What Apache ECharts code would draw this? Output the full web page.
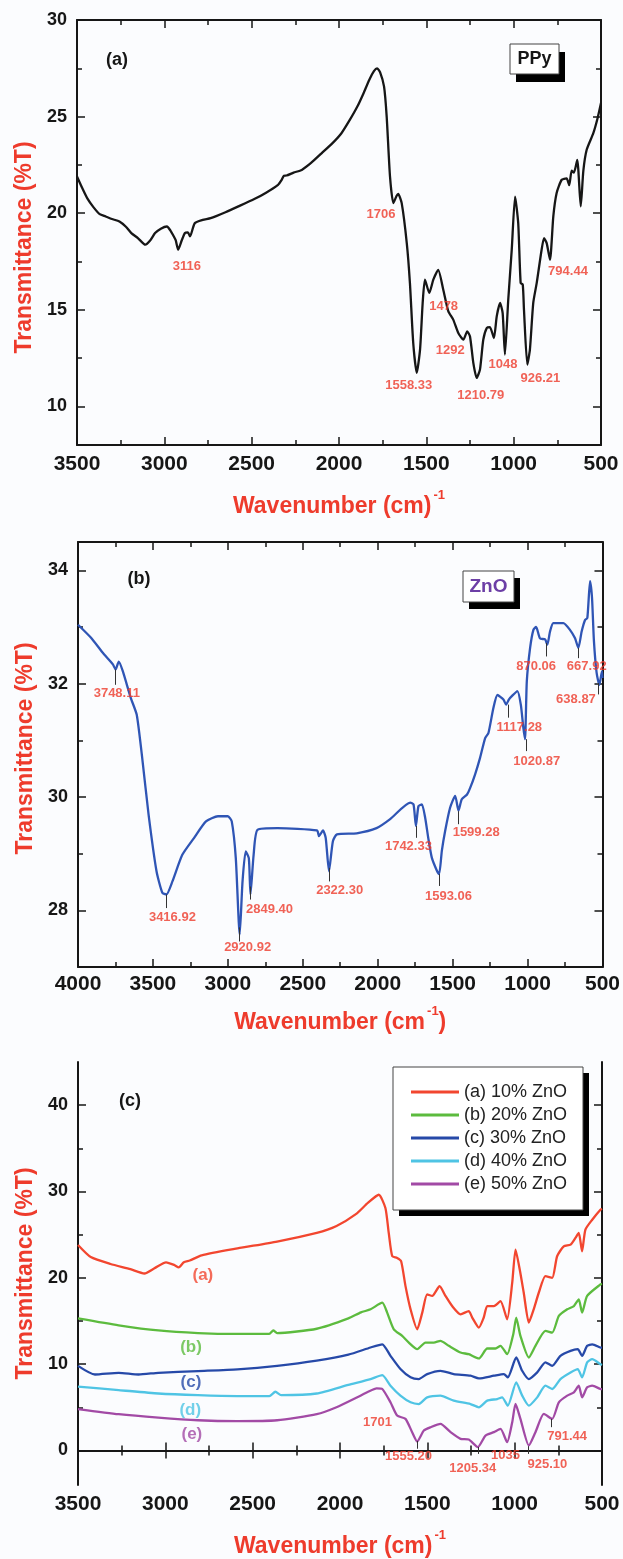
<!DOCTYPE html>
<html lang="en">
<head>
<meta charset="UTF-8">
<title>FTIR spectra of PPy, ZnO and PPy/ZnO composites</title>
<script src="https://cdn.jsdelivr.net/npm/echarts@6/dist/echarts.min.js"></script>
<style>
  html, body { margin: 0; padding: 0; background: #fbfcfe; }
  #chart { width: 623px; height: 1559px; }
</style>
</head>
<body>
<div id="chart"></div>
<script>
// ---------------- data ----------------
// (a) PPy: [wavenumber, %T]
const ppySpectrum = [[3500,21.9],[3470,21.3],[3440,20.75],[3405,20.3],[3370,19.95],[3336,19.83],[3300,19.7],[3257,19.57],[3220,19.3],[3189,18.97],[3150,18.7],[3109,18.37],[3080,18.6],[3053,18.97],[3020,19.2],[2985,19.31],[2965,19.1],[2951,18.88],[2935,18.6],[2921,18.11],[2900,18.6],[2882,18.97],[2865,19.0],[2853,18.8],[2826,19.48],[2780,19.65],[2735,19.74],[2650,20.05],[2576,20.35],[2485,20.73],[2420,21.05],[2349,21.47],[2330,21.7],[2315,21.94],[2300,21.95],[2260,22.1],[2213,22.24],[2160,22.6],[2100,23.1],[2040,23.6],[1986,24.14],[1940,24.8],[1895,25.52],[1860,26.2],[1827,26.9],[1800,27.35],[1782,27.5],[1765,27.3],[1742,26.55],[1727,25.0],[1708,21.9],[1689,20.52],[1670,20.9],[1661,21.0],[1641,20.52],[1612,18.45],[1594,16.39],[1575,13.28],[1555,11.73],[1536,12.94],[1521,15.35],[1508,16.56],[1483,15.87],[1460,16.56],[1432,17.07],[1403,16.04],[1374,14.92],[1346,14.49],[1317,13.8],[1288,13.45],[1266,13.88],[1250,13.62],[1231,12.25],[1212,11.47],[1193,11.9],[1174,13.45],[1154,14.06],[1136,14.1],[1113,13.54],[1097,14.66],[1078,15.35],[1063,14.83],[1050,12.68],[1031,15.52],[1011,18.11],[992,20.86],[974,19.49],[960,16.39],[948,16.3],[941,15.0],[922,12.16],[907,12.94],[888,15.35],[868,16.39],[840,18.11],[826,18.71],[811,18.45],[792,17.59],[773,19.83],[754,21.04],[725,21.73],[697,21.8],[682,21.45],[668,22.2],[655,22.1],[636,22.76],[616,20.35],[601,22.2],[582,23.28],[544,24.14],[520,24.9],[500,25.7]];

// (b) ZnO
const znoSpectrum = [[4000,33.04],[3913,32.81],[3833,32.54],[3767,32.34],[3749,32.25],[3728,32.39],[3701,32.22],[3648,31.75],[3608,31.45],[3569,30.63],[3529,29.69],[3476,28.69],[3437,28.31],[3410,28.28],[3370,28.51],[3304,28.98],[3225,29.28],[3146,29.57],[3066,29.66],[3000,29.66],[2974,29.57],[2947,28.92],[2921,27.57],[2902,28.51],[2881,29.04],[2860,28.92],[2849,28.28],[2828,28.98],[2802,29.42],[2669,29.45],[2405,29.41],[2392,29.31],[2365,29.41],[2347,29.28],[2325,28.69],[2299,29.22],[2272,29.34],[2140,29.36],[2008,29.45],[1917,29.61],[1783,29.9],[1761,29.87],[1745,29.49],[1728,29.84],[1705,29.87],[1683,29.63],[1661,29.25],[1639,28.93],[1605,28.7],[1590,28.64],[1572,29.05],[1550,29.4],[1517,29.81],[1483,30.02],[1461,29.76],[1439,29.96],[1405,30.04],[1383,30.16],[1350,30.4],[1317,30.69],[1283,31.04],[1261,31.13],[1228,31.57],[1201,31.8],[1161,31.72],[1143,31.63],[1125,31.72],[1105,31.78],[1068,31.87],[1045,31.63],[1028,31.22],[1017,31.02],[1005,32.04],[983,32.63],[961,32.95],[943,33.0],[917,32.8],[883,32.78],[868,32.69],[850,32.92],[828,33.07],[761,33.07],[717,32.95],[683,32.8],[661,32.63],[639,32.92],[617,33.12],[601,33.16],[583,33.81],[570,33.52],[557,32.75],[539,32.19],[521,31.98],[503,32.22],[500,32.1]];

// (c) composites
const compositeNames = ['(a) 10% ZnO', '(b) 20% ZnO', '(c) 30% ZnO', '(d) 40% ZnO', '(e) 50% ZnO'];
const compositeColors = ['#f2462f', '#5cbb3e', '#2649a8', '#4fc4e4', '#a24aa5'];
const comp10 = [[3500,23.8],[3427,22.4],[3314,21.6],[3200,21.0],[3120,20.5],[3062,21.1],[2996,21.8],[2950,21.5],[2923,21.2],[2894,21.8],[2860,22.0],[2792,22.6],[2587,23.4],[2360,24.2],[2133,25.2],[2020,26.0],[1907,27.4],[1839,28.7],[1778,29.62],[1740,28.08],[1721,25.2],[1701,22.5],[1673,22.3],[1650,21.92],[1625,19.04],[1596,16.35],[1558,14.04],[1529,15.97],[1501,18.08],[1472,17.9],[1430,19.04],[1396,17.9],[1358,16.73],[1310,15.77],[1263,16.15],[1243,15.4],[1205,14.24],[1177,15.4],[1157,16.73],[1119,16.73],[1081,17.3],[1043,15.2],[1014,19.43],[995,23.27],[971,20.96],[948,18.27],[919,14.81],[891,16.35],[862,18.27],[824,20.19],[785,20.0],[757,22.5],[719,23.65],[680,23.85],[652,24.62],[633,25.2],[614,23.08],[595,25.58],[556,26.73],[509,27.89],[500,28.0]];
const comp20 = [[3500,15.3],[3267,14.5],[3040,13.9],[2813,13.6],[2587,13.5],[2405,13.5],[2382,13.9],[2360,13.6],[2133,14.1],[1952,15.3],[1880,16.0],[1825,16.35],[1758,17.12],[1730,15.97],[1692,14.04],[1644,13.27],[1606,12.5],[1558,11.73],[1511,12.5],[1463,12.5],[1425,12.7],[1377,12.12],[1310,11.35],[1263,11.15],[1205,10.66],[1157,11.81],[1110,11.81],[1081,12.12],[1043,11.15],[1008,13.46],[991,15.39],[967,13.27],[919,10.77],[881,12.12],[824,13.85],[785,13.65],[747,15.58],[699,16.35],[661,16.73],[633,17.5],[614,15.97],[585,17.9],[509,19.23],[500,19.3]];
const comp30 = [[3500,9.8],[3403,8.8],[3267,9.0],[3153,8.8],[3040,9.0],[2813,9.2],[2587,9.4],[2360,9.8],[2133,10.4],[1952,11.1],[1825,11.93],[1758,12.3],[1711,10.96],[1654,9.43],[1596,8.47],[1549,8.27],[1501,8.85],[1425,9.23],[1349,8.85],[1253,8.66],[1205,8.35],[1119,8.66],[1062,8.85],[1039,8.47],[991,10.77],[957,9.23],[919,8.27],[871,9.04],[824,10.2],[785,9.81],[738,10.96],[680,11.54],[639,11.73],[614,10.96],[585,12.12],[556,12.3],[509,11.93],[500,11.9]];
const comp40 = [[3500,7.4],[3267,7.0],[3040,6.6],[2813,6.4],[2587,6.3],[2405,6.3],[2370,6.8],[2337,6.4],[2133,6.6],[1952,7.6],[1825,8.27],[1758,8.73],[1711,7.5],[1654,6.35],[1596,5.58],[1549,5.38],[1501,6.15],[1425,6.35],[1349,5.77],[1253,5.38],[1205,5.0],[1157,5.77],[1100,5.96],[1072,6.15],[1039,5.19],[991,7.89],[957,6.35],[919,5.19],[871,6.15],[824,7.5],[785,7.12],[738,8.27],[680,9.04],[639,9.43],[614,8.47],[585,10.2],[556,10.58],[509,10.0],[500,9.9]];
const comp50 = [[3500,4.8],[3267,4.2],[3040,3.8],[2813,3.5],[2587,3.4],[2360,3.5],[2133,4.2],[2020,5.0],[1907,6.1],[1839,6.8],[1790,7.2],[1758,7.12],[1711,5.58],[1673,4.04],[1625,3.66],[1587,2.12],[1558,1.04],[1520,2.31],[1482,2.69],[1425,3.08],[1367,2.12],[1310,1.35],[1263,1.27],[1211,0.39],[1167,1.73],[1119,2.12],[1081,2.5],[1043,0.96],[1014,3.27],[995,5.39],[967,3.66],[919,0.58],[881,2.12],[833,4.23],[785,3.66],[747,5.58],[699,6.35],[661,6.73],[633,7.5],[614,6.15],[585,7.31],[556,7.5],[509,7.12],[500,7.1]];

// peak annotations: [wavenumber, %T, text]
const ppyPeaks = [[2871,17.25,'3116'],[1760,19.92,'1706'],[1401,15.18,'1478'],[1363,12.9,'1292'],[1601,11.08,'1558.33'],[1188,10.56,'1210.79'],[1061,12.16,'1048'],[847,11.47,'926.21'],[689,16.99,'794.44']];
const znoPeaks = [[3741,31.82,'3748.11'],[3370,27.88,'3416.92'],[2868,27.34,'2920.92'],[2722,28.01,'2849.40'],[2254,28.36,'2322.30'],[1795,29.12,'1742.33'],[1528,28.24,'1593.06'],[1343,29.37,'1599.28'],[1055,31.22,'1117.28'],[939,30.63,'1020.87'],[943,32.31,'870.06'],[605,32.31,'667.92'],[677,31.72,'638.87']];
const compositePeaks = [[1785,3.3,'1701'],[1608,-0.66,'1555.20'],[1240,-2.05,'1205.34'],[1052,-0.55,'1035'],[813,-1.65,'925.10'],[700,1.59,'791.44']];
// peak marker strokes: [wavenumber, upper %T, lower %T]
const znoPeakMarks = [[3754,32.25,31.98],[3410,28.28,28.04],[2921,27.7,27.45],[2849,28.42,28.19],[2325,28.75,28.51],[1745,29.49,29.28],[1590,28.64,28.43],[1461,29.75,29.52],[1130,31.63,31.4],[1012,31.02,30.81],[872,32.72,32.48],[665,32.63,32.45],[528,32.01,31.81]];
const compositePeakMarks = [[1558,1.1,0.2],[1209,0.4,-0.4],[923,0.5,-0.4],[789,3.66,2.7]];
// curve tags in (c)
const curveTags = [[2785,20.3,'(a)'],[2853,11.9,'(b)'],[2853,7.85,'(c)'],[2857,4.6,'(d)'],[2848,1.9,'(e)']];

// tick values
const ppyYLabels = [10, 15, 20, 25, 30];
const ppyYMinor = [12.5, 17.5, 22.5, 27.5];
const znoYLabels = [28, 30, 32, 34];
const znoYMinor = [29, 31, 33];
const compYLabels = [0, 10, 20, 30, 40];
const compYMinor = [5, 15, 25, 35];

// ---------------- styling ----------------
const RED = '#ee3b2c';
const INK = '#161616';
const FONT = '"Liberation Sans", Arial, sans-serif';

const wavenumberRich = {
  t: { fontFamily: FONT, fontSize: 23, fontWeight: 'bold', color: RED, verticalAlign: 'bottom' },
  s: { fontFamily: FONT, fontSize: 13, fontWeight: 'bold', color: RED, verticalAlign: 'top', padding: [0, 0, 16, 2] }
};

function xAxisPair(gi, max, name, nameGap, labelMargin) {
  const base = {
    type: 'value', gridIndex: gi, min: 500, max: max, interval: 500, inverse: true,
    splitLine: { show: false },
    axisLine: { lineStyle: { color: INK, width: 2 } },
    axisTick: { inside: true, length: 8, lineStyle: { color: INK, width: 1.5 } },
    minorTick: { show: true, splitNumber: 2, length: 5, lineStyle: { color: INK, width: 1.5 } }
  };
  return [
    Object.assign({}, base, {
      position: 'bottom',
      axisLabel: { fontFamily: FONT, fontSize: 21, fontWeight: 'bold', color: INK, margin: labelMargin, formatter: v => String(v) },
      name: name, nameLocation: 'middle', nameGap: nameGap,
      nameTextStyle: { rich: wavenumberRich }
    }),
    Object.assign({}, base, { position: 'top', axisLabel: { show: false } })
  ];
}

function yAxisSet(gi, min, max, labels, minors, namePad) {
  const base = { type: 'value', gridIndex: gi, min: min, max: max, splitLine: { show: false } };
  const line = { lineStyle: { color: INK, width: 2 } };
  const tick = (vals, len) => ({ inside: true, length: len, customValues: vals, lineStyle: { color: INK, width: 1.5 } });
  return [
    Object.assign({}, base, {
      position: 'left', axisLine: line, axisTick: tick(labels, 8),
      axisLabel: { customValues: labels, fontFamily: FONT, fontSize: 18, fontWeight: 'bold', color: INK, margin: 10 },
      name: 'Transmittance (%T)', nameLocation: 'middle', nameGap: 40,
      nameTextStyle: { fontFamily: FONT, fontSize: 23, fontWeight: 'bold', color: RED, padding: namePad }
    }),
    Object.assign({}, base, { position: 'right', axisLine: line, axisTick: tick(labels, 8), axisLabel: { show: false } }),
    Object.assign({}, base, { position: 'left', axisLine: { show: false }, axisTick: tick(minors, 5), axisLabel: { show: false } }),
    Object.assign({}, base, { position: 'right', axisLine: { show: false }, axisTick: tick(minors, 5), axisLabel: { show: false } })
  ];
}

function spectrum(name, data, color, xi, yi) {
  return {
    type: 'line', name: name, data: data, xAxisIndex: xi, yAxisIndex: yi,
    showSymbol: false, symbol: 'none', smooth: 0.2, silent: true, z: 3,
    lineStyle: { color: color, width: 2.3 }, itemStyle: { color: color }
  };
}

function peakLabels(peaks, xi, yi, marks) {
  const s = {
    type: 'scatter', xAxisIndex: xi, yAxisIndex: yi, symbolSize: 0, silent: true, z: 5,
    data: peaks.map(p => ({ name: p[2], value: [p[0], p[1]] })),
    label: { show: true, position: 'inside', formatter: '{b}', fontFamily: FONT, fontSize: 13, fontWeight: 'bold', color: RED }
  };
  if (marks) {
    s.markLine = {
      silent: true, symbol: ['none', 'none'], label: { show: false },
      lineStyle: { color: '#333', width: 1, type: 'solid' },
      data: marks.map(m => [{ coord: [m[0], m[1]] }, { coord: [m[0], m[2]] }])
    };
  }
  return s;
}

// framed box with a solid drop shadow (shadow drawn as its own rect)
function shadowBox(x, y, w, h, dx, dy, z) {
  return [
    { type: 'rect', z: z, shape: { x: x + dx, y: y + dy, width: w, height: h }, style: { fill: '#000' } },
    { type: 'rect', z: z, shape: { x: x, y: y, width: w, height: h }, style: { fill: '#fff', stroke: '#444', lineWidth: 1 } }
  ];
}

function boxLabel(x, y, w, h, text, font, color, dx, dy) {
  return shadowBox(x, y, w, h, dx, dy, 10).concat([
    { type: 'text', z: 11, x: x + w / 2, y: y + h / 2, style: { text: text, font: font, fill: color, align: 'center', verticalAlign: 'middle' } }
  ]);
}

function panelTag(x, y, text) {
  return { type: 'text', x: x, y: y, z: 10, style: { text: text, font: 'bold 18px ' + FONT, fill: INK, align: 'center', verticalAlign: 'middle' } };
}

const series = [
  spectrum('PPy', ppySpectrum, INK, 0, 0),
  peakLabels(ppyPeaks, 0, 0),
  spectrum('ZnO', znoSpectrum, '#2f55b5', 2, 4),
  peakLabels(znoPeaks, 2, 4, znoPeakMarks)
];
[comp10, comp20, comp30, comp40, comp50].forEach((d, i) => {
  series.push(spectrum(compositeNames[i], d, compositeColors[i], 4, 8));
});
series.push(peakLabels(compositePeaks, 4, 8, compositePeakMarks));
series.push({
  type: 'scatter', xAxisIndex: 4, yAxisIndex: 8, symbolSize: 0, silent: true, z: 5,
  data: curveTags.map((t, i) => ({ name: t[2], value: [t[0], t[1]], label: { color: compositeColors[i] } })),
  label: { show: true, position: 'inside', formatter: '{b}', fontFamily: FONT, fontSize: 17, fontWeight: 'bold' }
});

const chart = echarts.init(document.getElementById('chart'));
chart.setOption({
  animation: false,
  backgroundColor: '#fbfcfe',
  textStyle: { fontFamily: FONT },
  grid: [
    { left: 77, top: 20, width: 524, height: 425 },
    { left: 78, top: 542, width: 525, height: 425 },
    { left: 78, top: 1062, width: 524, height: 424 }
  ],
  xAxis: [].concat(
    xAxisPair(0, 3500, '{t|Wavenumber (cm)}{s|-1}', 44, 9),
    xAxisPair(1, 4000, '{t|Wavenumber (cm}{s|-1}{t|)}', 38, 7),
    xAxisPair(2, 3500, '{t|Wavenumber (cm)}{s|-1}', 44, 9)
  ),
  yAxis: [].concat(
    yAxisSet(0, 8, 30, ppyYLabels, ppyYMinor, [0, 30, 0, 0]),
    yAxisSet(1, 27, 34.5, znoYLabels, znoYMinor, [0, 0, 0, 12]),
    yAxisSet(2, -4, 45, compYLabels, compYMinor, [0, 0, 0, 0])
  ),
  legend: {
    data: compositeNames, orient: 'vertical', left: 393, top: 1067, z: 12,
    icon: 'rect', itemWidth: 48, itemHeight: 3, itemGap: 5,
    padding: [16, 16, 16, 18],
    textStyle: { fontFamily: FONT, fontSize: 18, color: '#222' }
  },
  graphic: [
    panelTag(117, 60, '(a)'),
    panelTag(139, 579, '(b)'),
    panelTag(130, 1101, '(c)')
  ].concat(
    boxLabel(510, 44, 49, 30, 'PPy', 'bold 18px ' + FONT, INK, 6, 8),
    boxLabel(463, 571, 51, 31, 'ZnO', 'bold 19px ' + FONT, '#6d3fa6', 6, 7),
    shadowBox(393, 1067, 190, 143, 6, 6, 10)
  ),
  series: series
});
</script>
</body>
</html>
